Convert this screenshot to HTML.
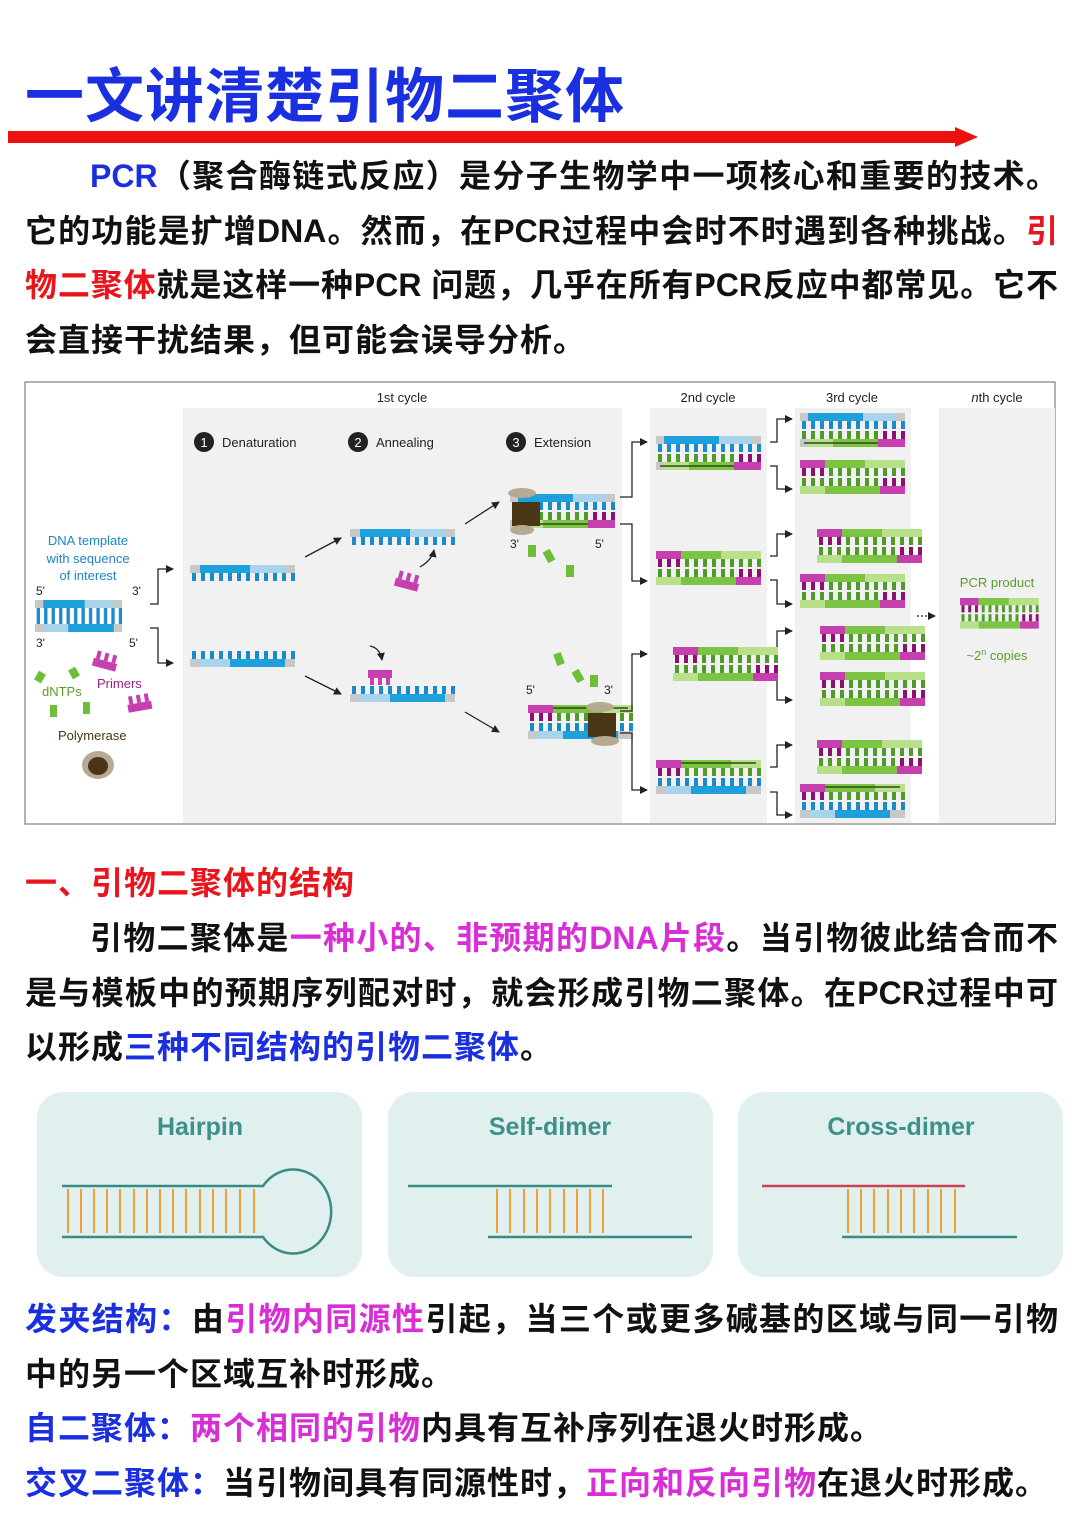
<!DOCTYPE html>
<html><head><meta charset="utf-8">
<style>
body{margin:0;background:#fff;}
#pg{position:relative;width:1080px;height:1528px;overflow:hidden;background:#fff;font-family:"Liberation Sans","Noto Sans CJK SC",sans-serif;}
.t{position:absolute;left:25px;width:1033px;font-size:32px;font-weight:bold;color:#111;line-height:54.5px;letter-spacing:1px;font-family:"Liberation Sans","Noto Sans CJK SC",sans-serif;}
.t div{white-space:nowrap;}
.j{text-align:justify;text-align-last:justify;letter-spacing:0;}
.b{color:#1a2fe0}.r{color:#e8161c}.m{color:#d82ed6}
.abs{position:absolute;}
</style></head><body><div id="pg">
<div class="abs" style="left:25px;top:58px;font-size:59px;font-weight:bold;color:#1a2fe0;letter-spacing:1px;font-family:'Liberation Sans','Noto Sans CJK SC',sans-serif;line-height:78px;">一文讲清楚引物二聚体</div>
<svg class="abs" style="left:0;top:0" width="1080" height="160"><polygon points="8,131 955,131 955,127 978,137 955,147 955,143 8,143" fill="#ee1111"/></svg>

<div class="t" style="top:149px">
<div class="j" style="padding-left:65px"><span class="b">PCR</span>（聚合酶链式反应）是分子生物学中一项核心和重要的技术。</div>
<div class="j">它的功能是扩增DNA。然而，在PCR过程中会时不时遇到各种挑战。<span class="r">引</span></div>
<div class="j"><span class="r">物二聚体</span>就是这样一种PCR 问题，几乎在所有PCR反应中都常见。它不</div>
<div>会直接干扰结果，但可能会误导分析。</div>
</div>

<svg class="abs" style="left:0;top:0" width="1080" height="830" font-family="Liberation Sans, sans-serif">
<defs>
<pattern id="tB" width="9" height="20" patternUnits="userSpaceOnUse"><rect x="2" width="4" height="20" fill="#1a8acb"/></pattern>
<pattern id="tG" width="9" height="20" patternUnits="userSpaceOnUse"><rect x="2" width="4" height="20" fill="#4f9a28"/></pattern>
<pattern id="tP" width="9" height="20" patternUnits="userSpaceOnUse"><rect x="2" width="4" height="20" fill="#8c1070"/></pattern>
<pattern id="tK" width="9" height="20" patternUnits="userSpaceOnUse"><rect x="2" width="4" height="20" fill="#777"/></pattern>
<marker id="ah" markerWidth="8" markerHeight="8" refX="7" refY="4" orient="auto" markerUnits="userSpaceOnUse"><path d="M0,0 L8,4 L0,8 Z" fill="#222"/></marker>
<g id="T"><rect width="105" height="8" fill="#c8c8c8"/><rect x="10" width="50" height="8" fill="#1ea0dc"/><rect x="60" width="35" height="8" fill="#a9d3ea"/><rect y="8" width="105" height="8" fill="url(#tB)"/></g>
<g id="U"><rect y="0" width="105" height="8" fill="url(#tB)"/><rect y="8" width="105" height="8" fill="#c8c8c8"/><rect x="10" y="8" width="30" height="8" fill="#a9d3ea"/><rect x="40" y="8" width="55" height="8" fill="#1ea0dc"/></g>
<g id="P"><rect width="105" height="8" fill="#b8e08a"/><rect width="25" height="8" fill="#c63fae"/><rect x="25" width="40" height="8" fill="#7cc443"/>
<rect y="8" width="25" height="8" fill="url(#tP)"/><rect x="25" y="8" width="80" height="8" fill="url(#tG)"/>
<rect y="18" width="80" height="8" fill="url(#tG)"/><rect x="80" y="18" width="25" height="8" fill="url(#tP)"/>
<rect y="26" width="105" height="8" fill="#b8e08a"/><rect x="25" y="26" width="55" height="8" fill="#7cc443"/><rect x="80" y="26" width="25" height="8" fill="#c63fae"/></g>
<g id="A"><rect width="105" height="8" fill="#c8c8c8"/><rect x="8" width="55" height="8" fill="#1ea0dc"/><rect x="63" width="32" height="8" fill="#a9d3ea"/><rect y="8" width="105" height="8" fill="url(#tB)"/>
<rect y="18" width="78" height="8" fill="url(#tG)"/><rect x="78" y="18" width="27" height="8" fill="url(#tP)"/>
<rect y="26" width="105" height="8" fill="#c8c8c8"/><rect x="8" y="26" width="25" height="8" fill="#b8e08a"/><rect x="33" y="26" width="45" height="8" fill="#7cc443"/><rect x="78" y="26" width="27" height="8" fill="#c63fae"/>
<path d="M78,30 H4" stroke="#2e4a1a" stroke-width="1.5"/></g>
<g id="B"><rect width="105" height="8" fill="#b8e08a"/><rect width="25" height="8" fill="#c63fae"/><rect x="25" width="50" height="8" fill="#7cc443"/>
<rect y="8" width="25" height="8" fill="url(#tP)"/><rect x="25" y="8" width="80" height="8" fill="url(#tG)"/>
<rect y="18" width="105" height="8" fill="url(#tB)"/>
<rect y="26" width="105" height="8" fill="#c8c8c8"/><rect x="10" y="26" width="25" height="8" fill="#a9d3ea"/><rect x="35" y="26" width="55" height="8" fill="#1ea0dc"/>
<path d="M25,3 H100" stroke="#2e4a1a" stroke-width="1.5"/></g>
<g id="pol"><ellipse cx="0" cy="0" rx="16" ry="14" fill="#b7aa92"/><ellipse cx="0" cy="1" rx="10" ry="9" fill="#4a3516"/></g>
</defs>
<rect x="25" y="382" width="1030" height="442" fill="#fff" stroke="#888" stroke-width="1.3"/>
<rect x="183" y="408" width="439" height="415" fill="#f1f1f1"/>
<rect x="650" y="408" width="117" height="415" fill="#f1f1f1"/>
<rect x="795" y="408" width="116" height="415" fill="#f1f1f1"/>
<rect x="939" y="408" width="116" height="415" fill="#f1f1f1"/>
<g font-size="13" fill="#222" text-anchor="middle">
<text x="402" y="402">1st cycle</text><text x="708" y="402">2nd cycle</text><text x="852" y="402">3rd cycle</text><text x="997" y="402"><tspan font-style="italic">n</tspan>th cycle</text>
</g>
<g font-size="13" fill="#222">
<circle cx="204" cy="442" r="10" fill="#222"/><text x="204" y="447" fill="#fff" text-anchor="middle">1</text><text x="222" y="447">Denaturation</text>
<circle cx="358" cy="442" r="10" fill="#222"/><text x="358" y="447" fill="#fff" text-anchor="middle">2</text><text x="376" y="447">Annealing</text>
<circle cx="516" cy="442" r="10" fill="#222"/><text x="516" y="447" fill="#fff" text-anchor="middle">3</text><text x="534" y="447">Extension</text>
</g>
<g font-size="13" fill="#1b87c6" text-anchor="middle"><text x="88" y="545">DNA template</text><text x="88" y="563">with sequence</text><text x="88" y="580">of interest</text></g>
<g font-size="12" fill="#222"><text x="36" y="595">5'</text><text x="132" y="595">3'</text><text x="36" y="647">3'</text><text x="129" y="647">5'</text>
<text x="510" y="548">3'</text><text x="595" y="548">5'</text><text x="526" y="694">5'</text><text x="604" y="694">3'</text></g>
<use href="#T" transform="translate(35,600) scale(0.83,1)"/>
<use href="#U" transform="translate(35,616) scale(0.83,1)"/>
<use href="#T" x="190" y="565"/><use href="#U" x="190" y="651"/>
<use href="#T" x="350" y="529"/><use href="#U" x="350" y="686"/>
<g fill="#c63fae"><rect x="368" y="670" width="24" height="8"/><rect x="370" y="678" width="4" height="7"/><rect x="378" y="678" width="4" height="7"/><rect x="386" y="678" width="4" height="7"/>
<g transform="translate(398,570) rotate(15)"><rect y="8" width="24" height="8"/><rect x="2" width="4" height="8"/><rect x="10" width="4" height="8"/><rect x="18" width="4" height="8"/></g>
<g transform="translate(96,650) rotate(15)"><rect y="8" width="24" height="8"/><rect x="2" width="4" height="8"/><rect x="10" width="4" height="8"/><rect x="18" width="4" height="8"/></g>
<g transform="translate(126,697) rotate(-10)"><rect y="8" width="24" height="8"/><rect x="2" width="4" height="8"/><rect x="10" width="4" height="8"/><rect x="18" width="4" height="8"/></g></g>
<g fill="#6fbe3a"><rect x="36" y="672" width="8" height="10" transform="rotate(30 40 677)"/><rect x="70" y="668" width="8" height="10" transform="rotate(-30 74 673)"/><rect x="50" y="705" width="7" height="12"/><rect x="83" y="702" width="7" height="12"/>
<rect x="528" y="545" width="8" height="12"/><rect x="545" y="550" width="8" height="12" transform="rotate(-30 549 556)"/><rect x="566" y="565" width="8" height="12"/>
<rect x="555" y="653" width="8" height="12" transform="rotate(-20 559 659)"/><rect x="574" y="670" width="8" height="12" transform="rotate(-30 578 676)"/><rect x="590" y="675" width="8" height="12"/></g>
<use href="#A" x="510" y="494"/><use href="#B" x="528" y="705"/>
<rect x="512" y="502" width="28" height="24" fill="#4a3516"/><ellipse cx="522" cy="493" rx="14" ry="5" fill="#b7aa92"/><ellipse cx="522" cy="530" rx="12" ry="5" fill="#b7aa92"/>
<rect x="588" y="713" width="28" height="24" fill="#4a3516"/><ellipse cx="600" cy="707" rx="14" ry="5" fill="#b7aa92"/><ellipse cx="605" cy="741" rx="14" ry="5" fill="#b7aa92"/>
<use href="#pol" x="98" y="765"/>
<g font-size="13"><text x="42" y="696" fill="#5a9e2a">dNTPs</text><text x="97" y="688" fill="#9a1f86">Primers</text><text x="58" y="740" fill="#4a3516">Polymerase</text></g>
<g stroke="#222" stroke-width="1.3" fill="none" marker-end="url(#ah)">
<path d="M150,604 H158 V569 H173"/><path d="M150,628 H158 V663 H173"/>
<path d="M305,557 L341,538"/><path d="M305,676 L341,694"/><path d="M465,524 L499,502"/><path d="M465,712 L499,732"/>
<path d="M420,567 Q432,560 434,550"/><path d="M370,646 Q380,648 382,660"/>
<path d="M620,497 H632 V442 H647"/><path d="M620,524 H632 V581 H647"/><path d="M620,711 H632 V654 H647"/><path d="M620,733 H632 V790 H647"/>
<path d="M770,442 H777 V419 H792"/><path d="M770,466 H777 V489 H792"/>
<path d="M770,556 H777 V534 H792"/><path d="M770,580 H777 V604 H792"/>
<path d="M770,653 H777 V631 H792"/><path d="M770,677 H777 V700 H792"/>
<path d="M770,767 H777 V745 H792"/><path d="M770,792 H777 V815 H792"/>
<path d="M917,616 H935" stroke-dasharray="2,2"/>
</g>
<use href="#A" x="656" y="436"/><use href="#P" x="656" y="551"/><use href="#P" x="673" y="647"/><use href="#B" x="656" y="760"/>
<use href="#A" x="800" y="413"/><use href="#P" x="800" y="460"/><use href="#P" x="817" y="529"/><use href="#P" x="800" y="574"/>
<use href="#P" x="820" y="626"/><use href="#P" x="820" y="672"/><use href="#P" x="817" y="740"/><use href="#B" x="800" y="784"/>
<use href="#P" transform="translate(960,598) scale(0.75,0.9)"/>
<g font-size="13" fill="#5a9e2a" text-anchor="middle"><text x="997" y="587">PCR product</text><text x="997" y="660">~2<tspan font-size="9" dy="-5">n</tspan><tspan dy="5"> copies</tspan></text></g>
</svg>

<div class="abs" style="left:25px;top:860px;font-size:32px;letter-spacing:1px;font-weight:bold;color:#e8161c;line-height:46px;font-family:'Liberation Sans','Noto Sans CJK SC',sans-serif;">一、引物二聚体的结构</div>
<div class="t" style="top:911px">
<div class="j" style="padding-left:65px">引物二聚体是<span class="m">一种小的、非预期的DNA片段</span>。当引物彼此结合而不</div>
<div class="j">是与模板中的预期序列配对时，就会形成引物二聚体。在PCR过程中可</div>
<div>以形成<span class="b">三种不同结构的引物二聚体</span>。</div>
</div>

<svg class="abs" style="left:0;top:1080px" width="1080" height="210" font-family="Liberation Sans, DejaVu Sans, sans-serif">
<rect x="37" y="12" width="325" height="185" rx="26" fill="#dff0ee"/>
<rect x="388" y="12" width="325" height="185" rx="26" fill="#dff0ee"/>
<rect x="738" y="12" width="325" height="185" rx="26" fill="#dff0ee"/>
<g font-size="25" font-weight="bold" fill="#3f8f8a" text-anchor="middle"><text x="200" y="55">Hairpin</text><text x="550" y="55">Self-dimer</text><text x="901" y="55">Cross-dimer</text></g>
<g stroke="#3a8a86" stroke-width="2.5" fill="none">
<path d="M62,106 H263 A38,42 0 1 1 263,157 H62"/>
<path d="M408,106 H612"/><path d="M488,157 H692"/><path d="M842,157 H1017"/>
</g>
<path d="M762,106 H965" stroke="#d04050" stroke-width="2.5"/>
<g stroke="#f0a030" stroke-width="2">
<path d="M68,109V153M81,109V153M94,109V153M107,109V153M120,109V153M134,109V153M147,109V153M160,109V153M173,109V153M186,109V153M200,109V153M213,109V153M226,109V153M240,109V153M254,109V153"/>
<path d="M497,109V153M510,109V153M524,109V153M537,109V153M550,109V153M564,109V153M577,109V153M590,109V153M603,109V153"/>
<path d="M848,109V153M861,109V153M874,109V153M888,109V153M901,109V153M914,109V153M928,109V153M941,109V153M955,109V153"/>
</g>
</svg>

<div class="t" style="top:1292px">
<div class="j"><span class="b">发夹结构：</span>由<span class="m">引物内同源性</span>引起，当三个或更多碱基的区域与同一引物</div>
<div>中的另一个区域互补时形成。</div>
<div><span class="b">自二聚体：</span><span class="m">两个相同的引物</span>内具有互补序列在退火时形成。</div>
<div><span class="b">交叉二聚体：</span>当引物间具有同源性时，<span class="m">正向和反向引物</span>在退火时形成。</div>
</div>
</div></body></html>
